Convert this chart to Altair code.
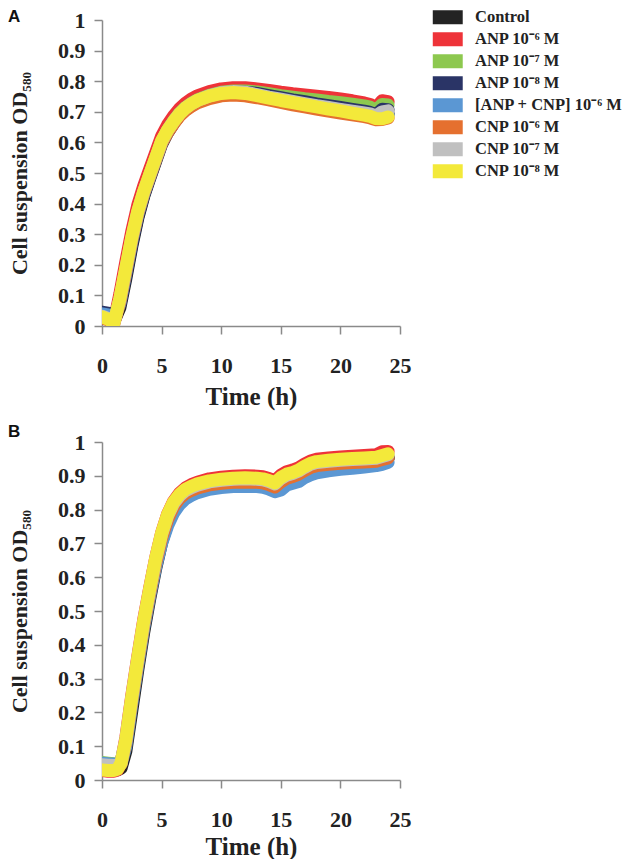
import altair as alt
import pandas as pd

series_names = ["Control", "ANP 10⁻⁶ M", "ANP 10⁻⁷ M", "ANP 10⁻⁸ M",
                "[ANP + CNP] 10⁻⁶ M", "CNP 10⁻⁶ M", "CNP 10⁻⁷ M", "CNP 10⁻⁸ M"]
series_colors = ["#232323", "#ee3339", "#8dc84f", "#2a3466",
                 "#5b97d3", "#e5702f", "#c0c0c0", "#f3e93a"]

x_ticks = [0, 5, 10, 15, 20, 25]
y_ticks = [0, 0.1, 0.2, 0.3, 0.4, 0.5, 0.6, 0.7, 0.8, 0.9, 1.0]

# ---------------- Panel A ----------------
tA = [0, 0.5, 1, 1.5, 2, 2.5, 3, 3.5, 4, 4.5, 5, 5.5, 6, 6.5, 7, 7.5, 8, 9, 10, 11,
      12, 13, 14, 15, 16, 17, 18, 19, 20, 21, 22, 22.5, 23, 23.5, 24]
A_control = [0.035, 0.030, 0.015, 0.060, 0.155, 0.260, 0.352, 0.424, 0.482, 0.538, 0.594, 0.632, 0.662, 0.688, 0.707, 0.721, 0.732, 0.747, 0.757, 0.761,
             0.759, 0.753, 0.746, 0.739, 0.732, 0.725, 0.719, 0.713, 0.708, 0.702, 0.697, 0.693, 0.687, 0.692, 0.694]
A_anp6 = [0.032, 0.022, 0.012, 0.105, 0.210, 0.310, 0.395, 0.458, 0.512, 0.566, 0.620, 0.657, 0.686, 0.710, 0.728, 0.742, 0.752, 0.766, 0.775, 0.779,
          0.779, 0.775, 0.770, 0.764, 0.759, 0.755, 0.751, 0.747, 0.742, 0.736, 0.729, 0.724, 0.713, 0.736, 0.733]
A_anp7 = [0.035, 0.028, 0.015, 0.085, 0.180, 0.280, 0.368, 0.435, 0.492, 0.548, 0.602, 0.640, 0.670, 0.695, 0.714, 0.728, 0.739, 0.754, 0.764, 0.768,
          0.768, 0.765, 0.759, 0.753, 0.748, 0.743, 0.739, 0.734, 0.730, 0.725, 0.719, 0.715, 0.705, 0.724, 0.722]
A_anp8 = [0.045, 0.042, 0.030, 0.070, 0.165, 0.268, 0.358, 0.428, 0.486, 0.543, 0.598, 0.636, 0.666, 0.691, 0.710, 0.724, 0.735, 0.750, 0.760, 0.764,
          0.764, 0.760, 0.753, 0.746, 0.739, 0.733, 0.726, 0.720, 0.714, 0.708, 0.702, 0.698, 0.690, 0.708, 0.707]
A_mix6 = [0.040, 0.036, 0.022, 0.075, 0.175, 0.278, 0.365, 0.432, 0.488, 0.544, 0.598, 0.635, 0.664, 0.689, 0.707, 0.721, 0.732, 0.747, 0.757, 0.760,
          0.758, 0.752, 0.745, 0.738, 0.731, 0.724, 0.718, 0.712, 0.706, 0.700, 0.694, 0.690, 0.684, 0.689, 0.691]
A_cnp6 = [0.028, 0.020, 0.008, 0.080, 0.180, 0.282, 0.368, 0.434, 0.489, 0.544, 0.598, 0.633, 0.661, 0.686, 0.704, 0.718, 0.729, 0.743, 0.752, 0.755,
          0.752, 0.746, 0.739, 0.731, 0.723, 0.716, 0.709, 0.702, 0.696, 0.690, 0.684, 0.680, 0.674, 0.675, 0.680]
A_cnp7 = [0.032, 0.025, 0.012, 0.088, 0.188, 0.288, 0.373, 0.438, 0.493, 0.548, 0.603, 0.639, 0.668, 0.693, 0.712, 0.726, 0.737, 0.752, 0.762, 0.766,
          0.764, 0.756, 0.748, 0.741, 0.734, 0.727, 0.720, 0.714, 0.708, 0.702, 0.696, 0.693, 0.686, 0.700, 0.703]
A_cnp8 = [0.030, 0.022, 0.010, 0.090, 0.190, 0.290, 0.375, 0.440, 0.495, 0.550, 0.605, 0.640, 0.668, 0.693, 0.712, 0.726, 0.737, 0.751, 0.760, 0.763,
          0.760, 0.753, 0.745, 0.737, 0.730, 0.723, 0.716, 0.709, 0.703, 0.696, 0.689, 0.685, 0.678, 0.677, 0.683]

# ---------------- Panel B ----------------
tB = [0, 0.5, 1, 1.3, 1.6, 2, 2.5, 3, 3.5, 4, 4.5, 5, 5.5, 6, 6.5, 7, 7.5, 8, 9, 10,
      11, 12, 13, 13.5, 14, 14.5, 15, 15.5, 16, 16.5, 17, 17.5, 18, 19, 20, 21, 22, 23, 23.5, 24]
B_control = [0.035, 0.033, 0.032, 0.030, 0.035, 0.085, 0.205, 0.325, 0.437, 0.535, 0.625, 0.702, 0.760, 0.800, 0.826, 0.843, 0.853, 0.861, 0.872, 0.878,
             0.882, 0.883, 0.882, 0.880, 0.875, 0.868, 0.883, 0.893, 0.898, 0.905, 0.916, 0.925, 0.930, 0.934, 0.937, 0.939, 0.941, 0.943, 0.948, 0.953]
B_anp6 = [0.028, 0.026, 0.026, 0.030, 0.052, 0.125, 0.250, 0.365, 0.474, 0.568, 0.657, 0.731, 0.786, 0.824, 0.848, 0.864, 0.874, 0.881, 0.891, 0.896,
          0.899, 0.900, 0.899, 0.897, 0.892, 0.885, 0.902, 0.912, 0.917, 0.924, 0.935, 0.944, 0.949, 0.953, 0.956, 0.958, 0.960, 0.962, 0.971, 0.972]
B_anp7 = [0.052, 0.050, 0.048, 0.046, 0.055, 0.115, 0.238, 0.352, 0.462, 0.557, 0.646, 0.720, 0.775, 0.813, 0.837, 0.852, 0.861, 0.868, 0.878, 0.884,
          0.887, 0.888, 0.887, 0.885, 0.880, 0.873, 0.888, 0.898, 0.903, 0.910, 0.921, 0.930, 0.935, 0.939, 0.942, 0.944, 0.946, 0.948, 0.953, 0.957]
B_anp8 = [0.045, 0.043, 0.042, 0.040, 0.050, 0.110, 0.232, 0.347, 0.457, 0.552, 0.641, 0.716, 0.771, 0.809, 0.833, 0.848, 0.857, 0.864, 0.874, 0.880,
          0.883, 0.884, 0.883, 0.881, 0.876, 0.869, 0.884, 0.894, 0.899, 0.906, 0.917, 0.926, 0.931, 0.935, 0.938, 0.940, 0.942, 0.944, 0.949, 0.953]
B_mix6 = [0.050, 0.048, 0.047, 0.046, 0.048, 0.100, 0.225, 0.340, 0.450, 0.545, 0.630, 0.700, 0.752, 0.790, 0.815, 0.832, 0.842, 0.850, 0.860, 0.865,
          0.868, 0.869, 0.868, 0.866, 0.861, 0.853, 0.858, 0.873, 0.878, 0.883, 0.895, 0.903, 0.909, 0.915, 0.919, 0.922, 0.926, 0.930, 0.934, 0.940]
B_cnp6 = [0.032, 0.030, 0.030, 0.033, 0.048, 0.112, 0.236, 0.350, 0.459, 0.553, 0.642, 0.716, 0.771, 0.809, 0.833, 0.848, 0.857, 0.864, 0.873, 0.878,
          0.881, 0.882, 0.881, 0.879, 0.874, 0.867, 0.882, 0.893, 0.898, 0.905, 0.916, 0.925, 0.930, 0.934, 0.937, 0.939, 0.941, 0.943, 0.948, 0.953]
B_cnp7 = [0.045, 0.044, 0.043, 0.042, 0.052, 0.118, 0.242, 0.357, 0.466, 0.561, 0.651, 0.726, 0.781, 0.818, 0.841, 0.856, 0.865, 0.872, 0.882, 0.887,
          0.890, 0.891, 0.890, 0.888, 0.883, 0.876, 0.892, 0.902, 0.907, 0.914, 0.925, 0.934, 0.939, 0.943, 0.946, 0.948, 0.950, 0.952, 0.957, 0.962]
B_cnp8 = [0.030, 0.028, 0.028, 0.032, 0.050, 0.120, 0.245, 0.360, 0.470, 0.565, 0.655, 0.730, 0.785, 0.822, 0.845, 0.860, 0.869, 0.876, 0.885, 0.890,
          0.893, 0.894, 0.893, 0.891, 0.886, 0.879, 0.895, 0.905, 0.910, 0.917, 0.928, 0.937, 0.942, 0.946, 0.949, 0.951, 0.953, 0.955, 0.960, 0.965]

A_series = [A_control, A_anp6, A_anp7, A_anp8, A_mix6, A_cnp6, A_cnp7, A_cnp8]
B_series = [B_control, B_anp6, B_anp7, B_anp8, B_mix6, B_cnp6, B_cnp7, B_cnp8]

SERIF = "Liberation Serif"
AXIS_GRAY = "#8a8a8a"
color_scale = alt.Scale(domain=series_names, range=series_colors)
RECT_PATH = "M-2.14,-1H2.14V1H-2.14Z"


def make_df(t, series):
    rows = []
    for name, vals in zip(series_names, series):
        for ti, v in zip(t, vals):
            rows.append({"time": ti, "od": v, "series": name})
    return pd.DataFrame(rows)


def panel(t, series, h, letter, letter_y, x_title_pad, with_legend):
    df = make_df(t, series)
    base = alt.Chart(df)
    x_enc = alt.X("time:Q", scale=alt.Scale(domain=[0, 25], nice=False),
                  axis=alt.Axis(values=x_ticks, title="Time (h)", labelPadding=21,
                                labelFlush=False, titlePadding=x_title_pad,
                                labelFontSize=22, titleFontSize=25))
    y_enc = alt.Y("od:Q", scale=alt.Scale(domain=[0, 1], nice=False),
                  axis=alt.Axis(values=y_ticks, format=".1~f", labelOverlap=False,
                                labelFlush=False,
                                title="Cell suspension OD₅₈₀", labelPadding=9,
                                titlePadding=26, labelFontSize=22, titleFontSize=22))
    layers = []
    if with_legend:
        # invisible filled layer that carries the legend (must come first)
        layers.append(
            base.mark_point(filled=True, opacity=0, shape=RECT_PATH, clip=True)
            .encode(x=x_enc, y=y_enc,
                    color=alt.Color("series:N", scale=color_scale,
                                    legend=alt.Legend(
                                        title=None, orient="none", legendX=337.5, legendY=-11,
                                        symbolType=RECT_PATH, symbolSize=196,
                                        symbolStrokeWidth=0, symbolOpacity=1,
                                        labelFont=SERIF, labelFontWeight="bold",
                                        labelFontSize=16.5, labelColor="#222222",
                                        labelOffset=19, labelLimit=300,
                                        rowPadding=5, padding=0)))
        )
    for name in series_names:
        layers.append(
            base.transform_filter(alt.FieldEqualPredicate(field="series", equal=name))
            .mark_line(strokeWidth=13, clip=True, strokeCap="round", strokeJoin="round")
            .encode(x=x_enc, y=y_enc,
                    color=alt.Color("series:N", scale=color_scale, legend=None))
        )
    lab = alt.Chart(pd.DataFrame({"t": [letter]})).mark_text(
        font="Liberation Sans", fontWeight="bold", fontSize=17, align="left",
        baseline="top", color="#111111"
    ).encode(x=alt.value(-94), y=alt.value(letter_y), text="t:N")
    layers.append(lab)
    return alt.layer(*layers).properties(width=298, height=h)


pA = panel(tA, A_series, 306, "A", -11, 8, True)
pB = panel(tB, B_series, 338, "B", -18, 4, False)

chart = alt.vconcat(pA, pB, spacing=14).properties(
    padding={"left": 0, "top": 0, "right": 0, "bottom": 0}
).configure_view(stroke=None).configure_axis(
    grid=False, domainColor=AXIS_GRAY, tickColor=AXIS_GRAY, domainWidth=1.5,
    tickWidth=1.5, tickSize=8, labelFont=SERIF, labelFontWeight="bold",
    labelColor="#222222", titleFont=SERIF, titleFontWeight="bold",
    titleColor="#222222"
).configure_axisY(labelAlign="right")

chart.save("out.html", embed_options={"renderer": "svg", "actions": False})
